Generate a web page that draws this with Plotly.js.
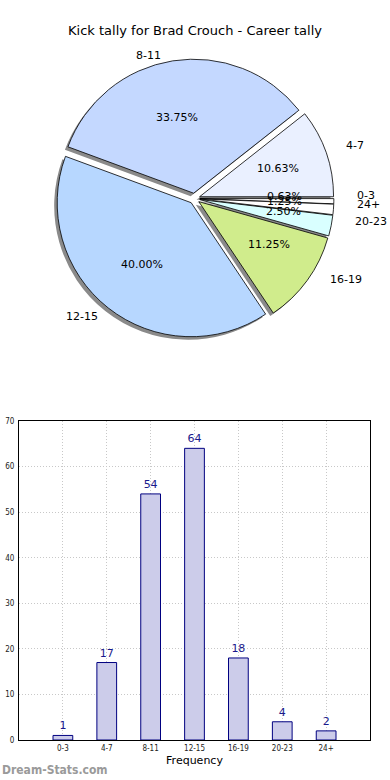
<!DOCTYPE html>
<html>
<head>
<meta charset="utf-8">
<script src="https://cdn.plot.ly/plotly-3.0.1.min.js"></script>
<style>html,body{margin:0;padding:0;background:#fff;}#chart{width:390px;height:780px;}</style>
</head>
<body>
<div id="chart"></div>
<script>
// ---- data ----
const categories = ["0-3", "4-7", "8-11", "12-15", "16-19", "20-23", "24+"];
const kicks = [1, 17, 54, 64, 18, 4, 2];
const sliceColors = ["#ffffff", "#eaf0ff", "#c4d8ff", "#b7d7ff", "#d0ec8c", "#d9ffff", "#ffffff"];
const chartTitle = "Kick tally for Brad Crouch - Career tally";

// ---- layout geometry (pixels) ----
const W = 390, H = 780;
const pieCx = 194.5, pieCy = 198.5, pieR = 134, pull = 0.04;
const labRx = 141, labRy = 128; // label placement radii (reference pie is slightly elliptical)
const R = pieR * (1 + pull);
const shOff = 3;

function px2x(x) { return x / W; }
function px2y(y) { return 1 - y / H; }

const total = kicks.reduce((a, b) => a + b, 0);

const shadow = {
  type: "pie", values: kicks, labels: categories, sort: false,
  direction: "counterclockwise", rotation: 90,
  pull: kicks.map(() => pull),
  marker: { colors: kicks.map(() => "#8a8a8a"), line: { width: 0 } },
  textinfo: "none", hoverinfo: "skip", showlegend: false,
  domain: { x: [px2x(pieCx - shOff - R), px2x(pieCx - shOff + R)],
            y: [px2y(pieCy + shOff + R), px2y(pieCy + shOff - R)] }
};
const pie = {
  type: "pie", values: kicks, labels: categories, sort: false,
  direction: "counterclockwise", rotation: 90,
  pull: kicks.map(() => pull),
  marker: { colors: sliceColors, line: { color: "#000", width: 0.8 } },
  textinfo: "none", showlegend: false,
  domain: { x: [px2x(pieCx - R), px2x(pieCx + R)],
            y: [px2y(pieCy + R), px2y(pieCy - R)] }
};

const bars = {
  type: "bar", x: categories, y: kicks, width: 0.45,
  marker: { color: "#ccccea", line: { color: "#000080", width: 1 } },
  text: kicks.map(String), textposition: "outside", cliponaxis: false,
  textfont: { color: "#1a1a8c", size: 11, family: "DejaVu Sans" },
  showlegend: false, xaxis: "x", yaxis: "y"
};

// pie labels (matplotlib-like placement) computed from the data
const annotations = [];
let cum = 0;
kicks.forEach((v, i) => {
  const a0 = cum / total * 360;
  cum += v;
  const a1 = cum / total * 360;
  const mid = (a0 + a1) / 2 * Math.PI / 180;
  const c = Math.cos(mid), s = Math.sin(mid);
  const ox = pieCx + pull * pieR * c, oy = pieCy - pull * pieR * s;
  const lx = ox + 1.1 * labRx * c, ly = oy - 1.1 * labRy * s;
  annotations.push({
    xref: "paper", yref: "paper", x: px2x(lx), y: px2y(ly),
    text: categories[i], showarrow: false,
    xanchor: c > 0 ? "left" : "right", yanchor: "middle",
    font: { family: "DejaVu Sans", size: 11, color: "#000" }
  });
  const tx = ox + 0.6 * labRx * c, ty = oy - 0.6 * labRy * s;
  annotations.push({
    xref: "paper", yref: "paper", x: px2x(tx), y: px2y(ty),
    text: (v * 100 / total).toFixed(2) + "%", showarrow: false,
    xanchor: "center", yanchor: "middle",
    font: { family: "DejaVu Sans", size: 11, color: "#000" }
  });
});
annotations.push({
  xref: "paper", yref: "paper", x: 0, y: px2y(770),
  text: "<b>Dream-Stats.com</b>", showarrow: false,
  xanchor: "left", yanchor: "middle",
  font: { family: "DejaVu Sans Condensed, DejaVu Sans", size: 12, color: "#9a9a9a" }
});

const gridStyle = { showgrid: true, gridcolor: "#c8c8c8", griddash: "1px,2px", gridwidth: 1 };

const layout = {
  width: W, height: H,
  margin: { l: 0, r: 0, t: 0, b: 0 },
  paper_bgcolor: "#fff", plot_bgcolor: "#fff",
  title: { text: chartTitle, x: 0.5, xanchor: "center", y: px2y(30), yanchor: "middle",
           font: { family: "DejaVu Sans", size: 13, color: "#000" } },
  xaxis: Object.assign({
    domain: [px2x(19), px2x(370)], anchor: "y", type: "category",
    range: [-1, 7], showline: true, linecolor: "#000", linewidth: 1, mirror: true,
    ticks: "", tickfont: { family: "DejaVu Sans Condensed, DejaVu Sans", size: 8, color: "#222" },
    title: { text: "Frequency", font: { family: "DejaVu Sans", size: 11, color: "#000" }, standoff: 4 },
    fixedrange: true
  }, gridStyle),
  yaxis: Object.assign({
    domain: [px2y(740), px2y(421)], anchor: "x",
    range: [0, 70], dtick: 10, showline: true, linecolor: "#000", linewidth: 1, mirror: true,
    zeroline: false, ticks: "", ticklabelstandoff: 2,
    tickfont: { family: "DejaVu Sans Condensed, DejaVu Sans", size: 8, color: "#222" },
    fixedrange: true
  }, gridStyle),
  annotations: annotations
};

Plotly.newPlot("chart", [shadow, pie, bars], layout, { displayModeBar: false, staticPlot: true });
</script>
</body>
</html>
